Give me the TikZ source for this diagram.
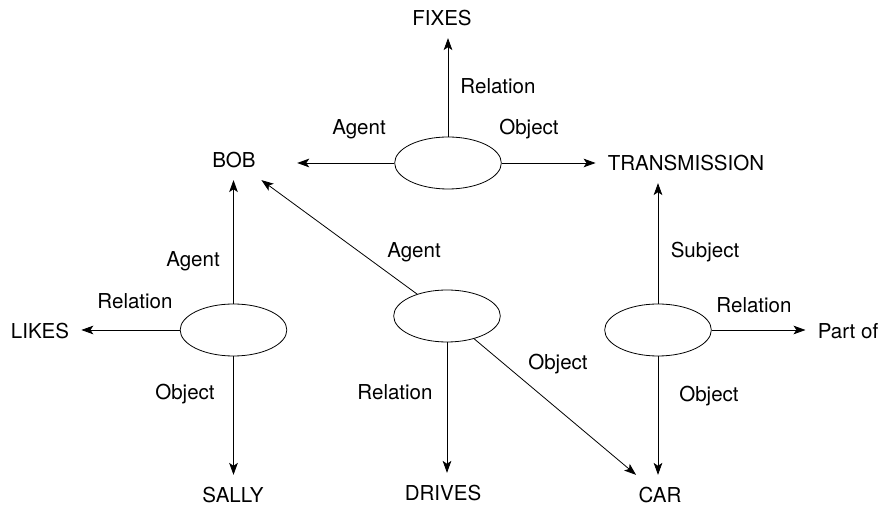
\documentclass[tikz,border=0pt]{standalone}
\usepackage{fontspec}
\setmainfont{TeX Gyre Heros}
\usetikzlibrary{arrows.meta,shapes.geometric}

\begin{document}
\begin{tikzpicture}[
    x=0.75pt, y=-0.75pt,
    frame/.style={draw, ellipse, line width=0.6pt, minimum width=80pt, minimum height=39pt, inner sep=0pt},
    term/.style={inner sep=9pt, font=\fontsize{15.4}{18}\selectfont},
    role/.style={inner sep=0pt, anchor=base, font=\fontsize{15.4}{18}\selectfont},
    link/.style={->, line width=0.6pt},
    >={Stealth[length=9pt, width=6.5pt, inset=2.2pt]}
]
\useasboundingbox (0,0) rectangle (883,505);

% Frames
\node[frame] (fixF)  at (448,163) {};
\node[frame] (likeF) at (233.5,330) {};
\node[frame] (drvF)  at (447,316) {};
\node[frame] (partF) at (658,330) {};

% Concepts
\node[term] (fixes)  at (442,18)  {FIXES};
\node[term] (bob)    at (234,160) {BOB};
\node[term] (trans)  at (686,163) {TRANSMISSION};
\node[term] (likes)  at (40,331)  {LIKES};
\node[term] (sally)  at (233,495) {SALLY};
\node[term] (drives) at (443,493) {DRIVES};
\node[term] (car)    at (660,495) {CAR};
\node[term] (partof) at (848,331) {Part of};

% Roles
\foreach \x/\y/\txt [count=\i] in {
    498/94/Relation, 359/135/Agent, 529/135/Object,
    193/267/Agent, 135/309/Relation, 185/400/Object,
    414/258/Agent, 395/400/Relation, 558/370/Object,
    705/258/Subject, 754/313/Relation, 709/402/Object} {
    \node[role] (role\i) at (\x,\y) {\txt};
}

% Links
\draw[link] (fixF.north) -- (fixF.north |- fixes.south);
\draw[link, shorten >=22pt] (fixF.west) -- (fixF.west -| bob.east);
\draw[link] (fixF.east) -- (fixF.east -| trans.west);

\draw[link] (likeF.north) -- (likeF.north |- bob.south);
\draw[link] (likeF.west) -- (likeF.west -| likes.east);
\draw[link] (likeF.south) -- (likeF.south |- sally.north);

\draw[link] (drvF) -- (bob);
\draw[link] (drvF.south) -- (drvF.south |- drives.north);
\draw[link] (drvF) -- (car);

\draw[link] (partF.north) -- (partF.north |- trans.south);
\draw[link] (partF.east) -- (partF.east -| partof.west);
\draw[link] (partF.south) -- (partF.south |- car.north);

\end{tikzpicture}
\end{document}
